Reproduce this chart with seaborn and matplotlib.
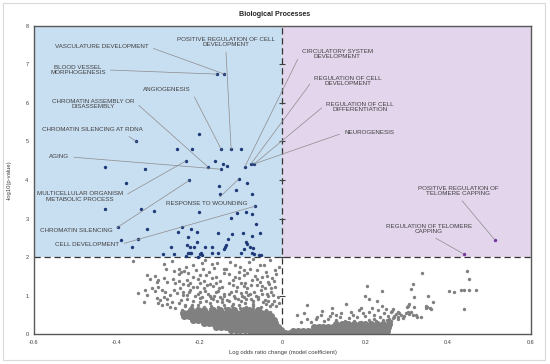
import numpy as np
import pandas as pd
import matplotlib
matplotlib.use("Agg")
import matplotlib.pyplot as plt
from matplotlib.patches import Rectangle
import seaborn as sns

# significant terms (left, blue)
blue_x = [-0.158, -0.140,
          -0.353, -0.201, -0.255, -0.218, -0.148, -0.124, -0.099,
          -0.428, -0.332, -0.234, -0.162, -0.144, -0.135, -0.181, -0.149, -0.091, -0.076, -0.068,
          -0.379, -0.225, -0.106, -0.153, -0.086, -0.113, -0.151, -0.074, -0.066,
          -0.428, -0.341, -0.311, -0.201, -0.089, -0.109, -0.073, -0.125, -0.063,
          -0.396, -0.243, -0.222, -0.328, -0.253, -0.206, -0.156, -0.096, -0.055, -0.123, -0.074,
          -0.227, -0.132, -0.389, -0.348,
          -0.087, -0.086, -0.207, -0.137, -0.139, -0.140, -0.364, -0.270, -0.231, -0.224, -0.213,
          -0.186, -0.169, -0.079, -0.094, -0.071,
          -0.263, -0.289, -0.228, -0.224, -0.220, -0.232, -0.199, -0.194, -0.203, -0.196, -0.169,
          -0.156, -0.099, -0.073, -0.068, -0.057, -0.053]
blue_y = [6.75, 6.75,
          5.00, 5.20, 4.80, 4.80, 4.80, 4.80, 4.80,
          4.35, 4.28, 4.49, 4.49, 4.41, 4.36, 4.35, 4.28, 4.34, 4.42, 4.42,
          3.91, 3.99, 4.02, 3.84, 3.91, 3.73, 3.64, 3.64, 3.32,
          3.24, 3.24, 3.19, 3.17, 3.17, 3.13, 3.12, 3.02, 2.87,
          2.77, 2.79, 2.73, 2.72, 2.65, 2.65, 2.63, 2.63, 2.63, 2.59, 2.55,
          2.52, 2.48, 2.44, 2.48,
          2.39, 2.33, 2.39, 2.30, 2.25, 2.22, 2.25, 2.26, 2.30, 2.25, 2.26,
          2.26, 2.26, 2.26, 2.20, 2.23,
          2.09, 2.08, 2.10, 2.11, 2.10, 2.03, 2.08, 2.04, 2.01, 2.10, 2.10,
          2.10, 2.10, 2.10, 2.08, 2.04, 2.06]

# significant terms (right, purple)
purple_x = [0.513, 0.439]
purple_y = [2.44, 2.07]

# non-significant terms, scattered part
grey_x = [-0.362, -0.266, -0.287, -0.282, -0.263, -0.251, -0.245, -0.237, -0.228,
          -0.326, -0.321, -0.309, -0.300, -0.303,
          -0.287, -0.279, -0.265, -0.259, -0.251, -0.241, -0.231, -0.223, -0.215,
          -0.333, -0.348, -0.334, -0.328,
          -0.314, -0.308, -0.300, -0.292, -0.284, -0.287, -0.303, -0.295, -0.279, -0.271, -0.263,
          -0.255, -0.247, -0.239, -0.231, -0.223, -0.215,
          -0.300, -0.291, -0.279, -0.271, -0.267, -0.259, -0.251, -0.243, -0.235, -0.227, -0.219,
          -0.215, -0.186, -0.158, -0.126, -0.102, -0.082, -0.061, -0.029, -0.199, -0.170, -0.142,
          -0.114, -0.094, -0.073, -0.049, -0.025, -0.207, -0.182, -0.154, -0.130, -0.110, -0.085,
          -0.061, -0.041, -0.017,
          -0.205, -0.195, -0.188, -0.175, -0.168, -0.160, -0.150, -0.142, -0.135, -0.125, -0.118,
          -0.108, -0.100, -0.092, -0.083, -0.075, -0.068, -0.058, -0.050, -0.042, -0.035, -0.028,
          -0.020, -0.012, -0.008,
          -0.210, -0.193, -0.178, -0.165, -0.150, -0.137, -0.120, -0.105, -0.090, -0.078, -0.066,
          -0.055, -0.040, -0.033, -0.015, -0.008, -0.190, -0.175, -0.045, -0.195,
          -0.245, -0.230, -0.215, -0.200, -0.185, -0.172, -0.158, -0.145, -0.130, -0.115, -0.100,
          -0.087, -0.072, -0.060, -0.048, -0.035, -0.025, -0.015,
          -0.240, -0.226, -0.212, -0.198, -0.180, -0.165, -0.155, -0.140, -0.128, -0.112, -0.097,
          -0.088, -0.078, -0.063, -0.052, -0.038, -0.022,
          -0.228, -0.200, -0.190, -0.168, -0.160, -0.145, -0.120, -0.100, -0.092, -0.075, -0.050,
          -0.035, -0.028,
          -0.205, -0.185, -0.160, -0.130, -0.105, -0.085, -0.062, -0.038, -0.020,
          -0.170, -0.140, -0.115, -0.092, -0.070, -0.055, -0.018, -0.232, -0.250,
          -0.200, -0.175, -0.145, -0.120, -0.090, -0.070, -0.218, -0.040, -0.030,
          -0.235, -0.220, -0.205, -0.190, -0.172, -0.155, -0.140, -0.122, -0.105, -0.088, -0.070,
          -0.052, -0.040, -0.030, -0.175, -0.138, -0.103, -0.070,
          0.205, 0.199, 0.208, 0.228, 0.241, 0.153, 0.119, 0.058, 0.034, 0.053, 0.189, 0.142,
          0.120, 0.115, 0.092, 0.084,
          0.336, 0.446, 0.451, 0.316, 0.311, 0.403, 0.413, 0.430, 0.438, 0.450, 0.468, 0.352,
          0.317, 0.364, 0.306, 0.303, 0.300, 0.317, 0.346, 0.350, 0.356, 0.346, 0.358, 0.438,
          0.267, 0.264, 0.261, 0.302, 0.310, 0.298, 0.306, 0.314, 0.322, 0.326, 0.334, 0.278,
          0.282, 0.274, 0.286, 0.270, 0.278, 0.266, 0.258, 0.253, 0.290, 0.294,
          0.070, 0.080, 0.100, 0.110, 0.130, 0.140, 0.160, 0.170, 0.180, 0.195, 0.200, 0.210,
          0.220, 0.230, 0.235, 0.245, 0.250, 0.165, 0.130, 0.060, 0.045, 0.095, 0.185, 0.215,
          0.255, 0.240, 0.220, 0.270, 0.280, 0.260,
          0.150, 0.172, 0.190, 0.208, 0.225, 0.243, 0.262]
grey_y = [1.90, 1.90, 1.83, 1.69, 1.64, 1.69, 1.62, 1.64, 1.58,
          1.53, 1.43, 1.51, 1.40, 1.36,
          1.45, 1.36, 1.43, 1.32, 1.38, 1.29, 1.40, 1.32, 1.49,
          1.14, 1.07, 0.82, 1.01,
          1.19, 1.12, 1.23, 1.14, 1.08, 0.97, 0.94, 0.88, 0.90, 1.01, 1.14,
          1.06, 1.19, 1.10, 1.01, 1.14, 1.23,
          0.80, 0.75, 0.77, 0.71, 0.84, 0.67, 0.80, 0.62, 0.75, 0.58, 0.67,
          1.79, 1.92, 1.84, 1.88, 1.75, 1.88, 1.66, 1.92, 1.53, 1.45, 1.58,
          1.49, 1.53, 1.40, 1.49, 1.45, 1.23, 1.27, 1.19, 1.32, 1.23, 1.19,
          1.27, 1.19, 1.23,
          1.05, 0.95, 1.12, 1.00, 0.90, 1.08, 0.96, 1.04, 0.88, 1.10, 0.98,
          0.92, 1.06, 0.95, 1.02, 0.90, 1.08, 0.96, 1.04, 0.88, 0.98, 1.10,
          0.85, 0.95, 0.80,
          1.65, 1.70, 1.60, 1.72, 1.38, 1.68, 1.40, 1.62, 1.32, 1.70, 1.50,
          1.35, 1.62, 1.30, 1.55, 1.75, 1.38, 1.30, 1.80, 1.85,
          0.88, 0.92, 0.86, 0.93, 0.87, 0.94, 0.86, 0.91, 0.85, 0.93, 0.87,
          0.92, 0.86, 0.90, 0.83, 0.87, 0.78, 0.72,
          1.02, 1.08, 1.00, 1.10, 1.05, 1.00, 1.12, 0.99, 1.03, 1.12, 0.99,
          1.10, 1.04, 1.00, 1.13, 1.05, 1.02,
          1.26, 1.33, 1.20, 1.25, 1.33, 1.22, 1.27, 1.33, 1.24, 1.28, 1.25,
          1.36, 1.20,
          1.43, 1.52, 1.47, 1.55, 1.45, 1.58, 1.43, 1.50, 1.38,
          1.82, 1.70, 1.80, 1.66, 1.95, 1.78, 1.65, 1.75, 1.55,
          0.82, 0.80, 0.83, 0.79, 0.81, 0.78, 0.76, 0.79, 0.74,
          0.72, 0.70, 0.76, 0.71, 0.74, 0.70, 0.76, 0.72, 0.75, 0.71, 0.74,
          0.70, 0.62, 0.58, 0.66, 0.68, 0.67, 0.65,
          1.25, 0.99, 0.91, 0.86, 1.12, 0.78, 0.68, 0.75, 0.50, 0.54, 0.68, 0.55,
          0.54, 0.48, 0.49, 0.45,
          1.58, 1.64, 1.42, 1.30, 1.17, 1.12, 1.08, 1.14, 1.14, 1.14, 1.14, 0.98,
          0.95, 0.82, 0.77, 0.74, 0.71, 0.71, 0.74, 0.69, 0.67, 0.67, 0.64, 0.65,
          0.65, 0.61, 0.56, 0.58, 0.56, 0.54, 0.51, 0.49, 0.49, 0.45, 0.44, 0.58,
          0.54, 0.51, 0.49, 0.48, 0.45, 0.42, 0.39, 0.36, 0.42, 0.47,
          0.30, 0.38, 0.33, 0.40, 0.36, 0.45, 0.42, 0.50, 0.44, 0.55, 0.47, 0.58,
          0.50, 0.62, 0.45, 0.55, 0.65, 0.58, 0.50, 0.40, 0.30, 0.60, 0.62, 0.68,
          0.48, 0.72, 0.40, 0.45, 0.38, 0.30,
          0.33, 0.35, 0.32, 0.36, 0.33, 0.37, 0.34]

# non-significant terms, dense core (rows by y level)
core_rows = {
    0.03: [-0.075, -0.064, -0.053, -0.042, -0.031, -0.020, -0.009, 0.000],
    0.10: [-0.125, -0.113, -0.102, -0.090, -0.079, -0.068, -0.056, -0.045, -0.034, -0.022, -0.011, -0.003],
    0.19: [-0.160, -0.149, -0.137, -0.126, -0.114, -0.103, -0.091, -0.080, -0.068, -0.057, -0.045,
           -0.034, -0.022, -0.012],
    0.28: [-0.190, -0.178, -0.167, -0.155, -0.144, -0.132, -0.121, -0.109, -0.098, -0.086, -0.075,
           -0.063, -0.052, -0.040, -0.029, -0.018],
    0.37: [-0.215, -0.203, -0.192, -0.180, -0.169, -0.157, -0.146, -0.134, -0.123, -0.111, -0.100,
           -0.088, -0.077, -0.065, -0.054, -0.042, -0.030, -0.020],
    0.46: [-0.238, -0.226, -0.215, -0.203, -0.191, -0.180, -0.168, -0.157, -0.145, -0.134, -0.122,
           -0.110, -0.099, -0.087, -0.076, -0.064, -0.052, -0.040, -0.028],
    0.55: [-0.240, -0.228, -0.218, -0.207, -0.196, -0.184, -0.172, -0.160, -0.148, -0.136, -0.124,
           -0.112, -0.100, -0.088, -0.076, -0.064, -0.052, -0.040],
    0.63: [-0.222, -0.205, -0.190, -0.168, -0.152, -0.131, -0.116, -0.094, -0.080, -0.060],
    0.02: [0.005, 0.017, 0.029, 0.041, 0.053, 0.065, 0.077, 0.089, 0.101, 0.113, 0.125, 0.137,
           0.149, 0.161, 0.173, 0.185, 0.197, 0.209, 0.221, 0.233],
    0.09: [0.025, 0.037, 0.049, 0.061, 0.073, 0.085, 0.097, 0.109, 0.121, 0.133, 0.145,
           0.157, 0.169, 0.181, 0.193, 0.205, 0.217, 0.229, 0.241, 0.253],
    0.17: [0.075, 0.087, 0.099, 0.111, 0.123, 0.135, 0.147, 0.159, 0.171, 0.183, 0.195,
           0.207, 0.219, 0.231, 0.243, 0.255],
    0.25: [0.130, 0.144, 0.158, 0.172, 0.186, 0.200, 0.214, 0.228, 0.242, 0.256],
}

# labelled terms: text, point x, point y, text x, text y, line anchor on text
labels = [
    ("VASCULATURE DEVELOPMENT", -0.140, 6.75, -0.436, 7.46, (1.0, 0.5)),
    ("BLOOD VESSEL\nMORPHOGENESIS", -0.158, 6.75, -0.494, 6.86, (1.0, 0.5)),
    ("POSITIVE REGULATION OF CELL\nDEVELOPMENT", -0.124, 4.80, -0.137, 7.58, (0.5, 0.0)),
    ("ANGIOGENESIS", -0.148, 4.80, -0.279, 6.34, (1.0, 0.5)),
    ("CHROMATIN ASSEMBLY OR\nDISASSEMBLY", -0.181, 4.35, -0.457, 5.97, (1.0, 0.75)),
    ("CHROMATIN SILENCING AT RDNA", -0.353, 5.00, -0.458, 5.30, (0.8, 0.0)),
    ("AGING", -0.149, 4.28, -0.539, 4.60, (1.0, 0.5)),
    ("MULTICELLULAR ORGANISM\nMETABOLIC PROCESS", -0.234, 4.49, -0.489, 3.57, (1.0, 0.5)),
    ("RESPONSE TO WOUNDING", -0.106, 4.02, -0.182, 3.38, (0.6, 1.0)),
    ("CHROMATIN SILENCING", -0.225, 3.99, -0.499, 2.68, (1.0, 0.5)),
    ("CELL DEVELOPMENT", -0.066, 3.32, -0.471, 2.32, (1.0, 0.5)),
    ("CIRCULATORY SYSTEM\nDEVELOPMENT", -0.091, 4.34, 0.132, 7.27, (0.0, 0.75)),
    ("REGULATION OF CELL\nDEVELOPMENT", -0.076, 4.42, 0.158, 6.57, (0.0, 0.75)),
    ("REGULATION OF CELL\nDIFFERENTIATION", -0.068, 4.42, 0.187, 5.90, (0.0, 0.75)),
    ("NEUROGENESIS", -0.068, 4.42, 0.209, 5.23, (0.0, 0.5)),
    ("POSITIVE REGULATION OF\nTELOMERE CAPPING", 0.513, 2.44, 0.425, 3.71, (0.5, 0.0)),
    ("REGULATION OF TELOMERE\nCAPPING", 0.439, 2.07, 0.353, 2.73, (0.5, 0.0)),
]

x_ticks = [-0.6, -0.4, -0.2, 0, 0.2, 0.4, 0.6]
x_tick_labels = ["-0.6", "-0.4", "-0.2", "0", "0.2", "0.4", "0.6"]
y_ticks = [0, 1, 2, 3, 4, 5, 6, 7, 8]

sns.set_style("white")
plt.rcParams["font.family"] = ["Liberation Sans", "DejaVu Sans"]

core_x = [x for y, xs in core_rows.items() for x in xs]
core_y = [y for y, xs in core_rows.items() for x in xs]
grey = pd.DataFrame({"x": grey_x, "y": grey_y})
core = pd.DataFrame({"x": core_x, "y": core_y})
blue = pd.DataFrame({"x": blue_x, "y": blue_y})
purple = pd.DataFrame({"x": purple_x, "y": purple_y})

fig = plt.figure(figsize=(5.5, 3.64), dpi=100)
ax = fig.add_axes([0.0618, 0.0824, 0.9036, 0.8462])

# shaded significance regions
ax.axvspan(-0.6, 0, ymin=0.25, ymax=1, color="#c8def1", lw=0, zorder=0)
ax.axvspan(0, 0.6, ymin=0.25, ymax=1, color="#e3d5ec", lw=0, zorder=0)

sns.scatterplot(data=core, x="x", y="y", color="#808080", s=26, linewidth=0, ax=ax, zorder=2)
sns.scatterplot(data=grey, x="x", y="y", color="#808080", s=6, linewidth=0, ax=ax, zorder=2)
sns.scatterplot(data=blue, x="x", y="y", color="#1f3a78", s=6, linewidth=0, ax=ax, zorder=3)
sns.scatterplot(data=purple, x="x", y="y", color="#7030a0", s=6, linewidth=0, ax=ax, zorder=3)

ax.axvline(0, color="#333333", lw=0.9, ls=(0, (5, 3)), zorder=1)
ax.axhline(2, color="#333333", lw=0.9, ls=(0, (5, 3)), zorder=1)
ax.plot([0] * len(y_ticks), y_ticks, ls="", marker="_", ms=5, mew=0.8, color="#404040", zorder=1)

for text, px, py, tx, ty, rel in labels:
    ax.annotate(text, xy=(px, py), xytext=(tx, ty), ha="center", va="center",
                fontsize=4.5, color="#404040", linespacing=1.15,
                arrowprops=dict(arrowstyle="-", color="#8c8c8c", lw=0.5,
                                relpos=rel, shrinkA=1, shrinkB=0))

ax.set_xlim(-0.6, 0.6)
ax.set_ylim(0, 8)
ax.set_xticks(x_ticks)
ax.set_xticklabels(x_tick_labels)
ax.set_yticks(y_ticks)
ax.tick_params(axis="both", length=0, labelsize=4, colors="#404040", pad=4)
ax.set_xlabel("Log odds ratio change (model coefficient)", fontsize=4.2, color="#404040", labelpad=4)
ax.set_ylabel("-log10(p-value)", fontsize=4.2, color="#404040", labelpad=10)
for s in ax.spines.values():
    s.set_color("#595959")
    s.set_linewidth(1.0)

fig.text(0.5, 0.961, "Biological Processes", ha="center", va="center",
         fontsize=5.1, fontweight="bold", color="#262626")
fig.patches.append(Rectangle((0.0055, 0.011), 0.9855, 0.981, transform=fig.transFigure,
                             fill=False, edgecolor="#d9d9d9", lw=0.8))

fig.savefig("out.png", dpi=100)
